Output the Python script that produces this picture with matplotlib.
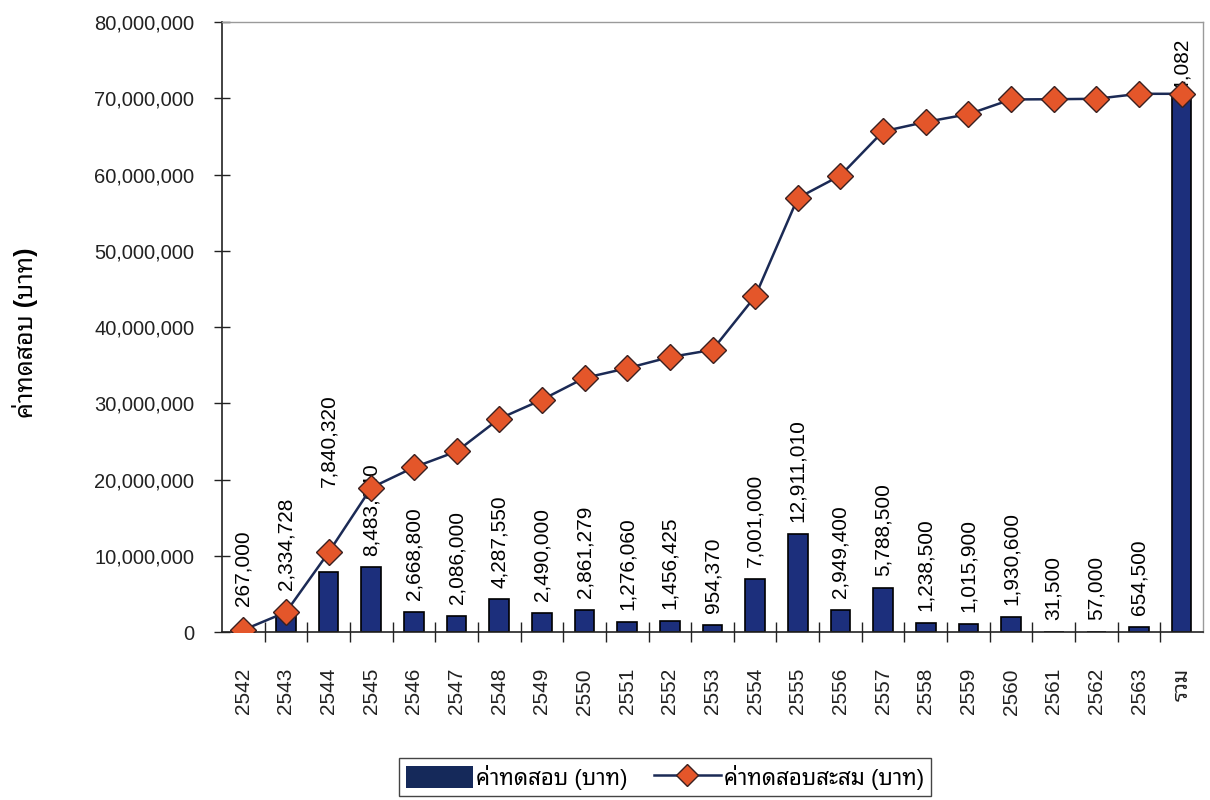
import matplotlib
matplotlib.use('Agg')
import matplotlib.pyplot as plt
from matplotlib.ticker import FuncFormatter, FixedLocator
from matplotlib.lines import Line2D
from matplotlib.patches import Patch

plt.rcParams['font.family'] = ['Liberation Sans', 'Noto Sans Thai Looped', 'DejaVu Sans']

# ปี / ค่าทดสอบรายปี / ค่าทดสอบสะสม
years = ['2542', '2543', '2544', '2545', '2546', '2547', '2548', '2549', '2550',
         '2551', '2552', '2553', '2554', '2555', '2556', '2557', '2558', '2559',
         '2560', '2561', '2562', '2563', 'รวม']
cost = [267000, 2334728, 7840320, 8483640, 2668800, 2086000, 4287550, 2490000,
        2861279, 1276060, 1456425, 954370, 7001000, 12911010, 2949400, 5788500,
        1238500, 1015900, 1930600, 31500, 57000, 654500, 70584082]
cumulative = [267000, 2601728, 10442048, 18925688, 21594488, 23680488, 27968038,
              30458038, 33319317, 34595377, 36051802, 37006172, 44007172, 56918182,
              59867582, 65656082, 66894582, 67910482, 69841082, 69872582, 69929582,
              70584082, 70584082]

BAR = '#1c2f7c'
MARK = '#e4562a'
LINE = '#1b2a55'

fig = plt.figure(figsize=(12.1, 8), dpi=100)
ax = fig.add_axes([222 / 1210, 1 - 632 / 800, 981 / 1210, 610 / 800])

x = list(range(len(years)))
ax.bar(x, cost, width=0.46, color=BAR, edgecolor='black', linewidth=1.2, zorder=2)
ax.plot(x, cumulative, '-D', color=LINE, lw=1.8, markersize=13,
        markerfacecolor=MARK, markeredgecolor='#3a2020', markeredgewidth=1.0, zorder=5)

# ป้ายค่าบนแท่ง (บางป้ายถูกขยับขึ้นเหมือนต้นฉบับ)
extra = {0: 9, 1: 9, 2: 53}
for i, v in enumerate(cost[:-1]):
    ax.annotate(f'{v:,}', (i, v), xytext=(0, 8.5 + extra.get(i, 0)),
                textcoords='offset points', rotation=90, ha='center', va='bottom',
                fontsize=15, zorder=3)
# ป้ายของ "รวม" ถูกแท่งบังบางส่วน
ax.text(x[-1], 77.9e6, f'{cost[-1]:,}', rotation=90, ha='center', va='top',
        fontsize=15, zorder=1)

ax.set_xlim(-0.5, len(years) - 0.5)
ax.set_ylim(0, 80e6)
ax.set_yticks(range(0, 80000001, 10000000))
ax.yaxis.set_major_formatter(FuncFormatter(lambda v, p: f'{int(v):,}'))
ax.tick_params(axis='y', direction='inout', length=12, width=1.0, pad=14,
               labelsize=14.5, colors='#222222')

ax.set_xticks(x)
ax.set_xticklabels(years, rotation=90)
ax.tick_params(axis='x', which='major', length=0, pad=26, labelsize=15, colors='#222222')
ax.xaxis.set_minor_locator(FixedLocator([i + 0.5 for i in x[:-1]]))
ax.tick_params(axis='x', which='minor', direction='inout', length=14, width=1.0,
               color='#222222')

for s in ['left', 'bottom']:
    ax.spines[s].set_color('#222222')
    ax.spines[s].set_linewidth(1.2)
for s in ['top', 'right']:
    ax.spines[s].set_color('#9a9a9a')
    ax.spines[s].set_linewidth(1.0)

fig.text(25 / 1210, 1 - 333 / 800, 'ค่าทดสอบ (บาท)', rotation=90, ha='center',
         va='center', fontsize=18, fontweight='bold')

handles = [Patch(facecolor='#15295a', edgecolor='none'),
           Line2D([], [], color=LINE, lw=1.8, marker='D', markersize=11,
                  markerfacecolor=MARK, markeredgecolor='#3a2020')]
fig.legend(handles, ['ค่าทดสอบ (บาท)', 'ค่าทดสอบสะสม (บาท)'], loc='center',
           bbox_to_anchor=(665 / 1210, 1 - 777 / 800), ncol=2, fontsize=16,
           frameon=True, fancybox=False, edgecolor='#444444', framealpha=1,
           handlelength=3.0, handleheight=1.1, columnspacing=1.2, handletextpad=0.15,
           borderpad=0.3)

fig.savefig('out.png', facecolor='white')
